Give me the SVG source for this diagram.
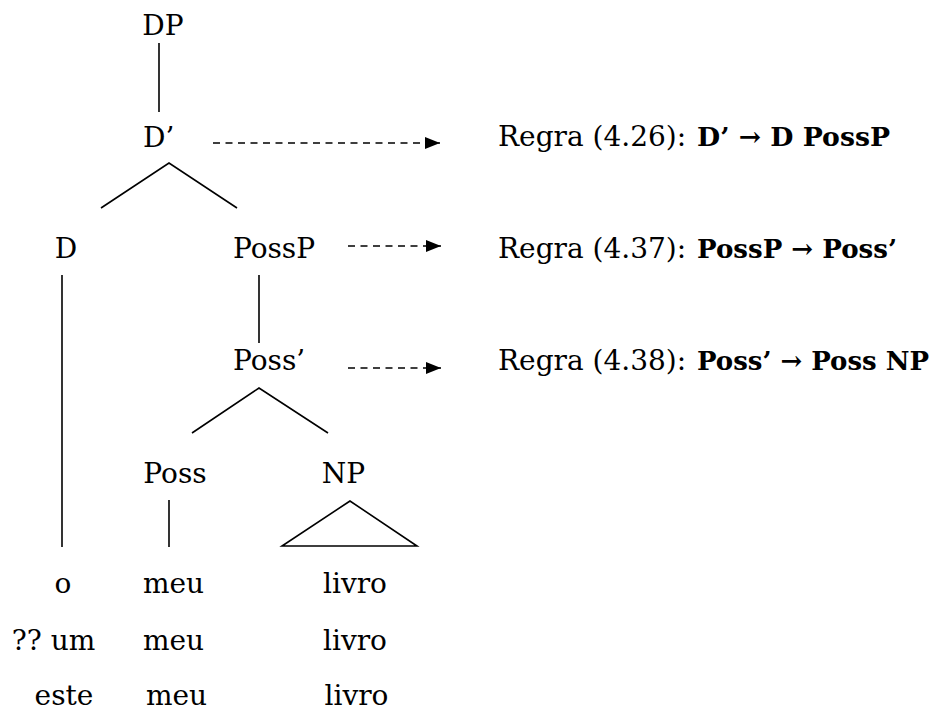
<svg xmlns="http://www.w3.org/2000/svg" width="938" height="711" viewBox="0 0 938 711">
<style>
text{font-family:"DejaVu Serif","Liberation Serif",serif;font-size:28px;fill:#000}
.m{text-anchor:middle}
.b{font-weight:bold;font-size:26.5px}
line,polyline,polygon.t{stroke:#000;stroke-width:1.6;fill:none}
.d{stroke-dasharray:7 5.5}
</style>
<defs>
<marker id="ah" markerWidth="15" markerHeight="12" refX="15" refY="6" orient="auto" markerUnits="userSpaceOnUse">
<path d="M0,0 L15,6 L0,12 Z" fill="#000"/>
</marker>
</defs>
<rect width="938" height="711" fill="#fff"/>
<g id="connectors">
<line x1="159" y1="43" x2="159" y2="112"/>
<polyline points="101,208 169,163 237,208"/>
<line x1="62" y1="275" x2="62" y2="547"/>
<line x1="259" y1="275" x2="259" y2="343"/>
<polyline points="192,433 259,388 328,433"/>
<line x1="169" y1="500" x2="169" y2="547"/>
<polygon class="t" points="350,501 282,546 417,546"/>
<line class="d" x1="213" y1="143" x2="440" y2="143" marker-end="url(#ah)"/>
<line class="d" x1="348" y1="246" x2="441" y2="246" marker-end="url(#ah)"/>
<line class="d" x1="348" y1="368" x2="441" y2="368" marker-end="url(#ah)"/>
</g>
<g id="node-DP"><text class="m" x="163" y="35">DP</text></g>
<g id="node-Dbar"><text x="143" y="147">D’</text></g>
<g id="node-D"><text class="m" x="66" y="258">D</text></g>
<g id="node-PossP"><text class="m" x="274" y="258">PossP</text></g>
<g id="node-Possbar"><text x="233" y="370">Poss’</text></g>
<g id="node-Poss"><text class="m" x="175" y="483">Poss</text></g>
<g id="node-NP"><text class="m" x="343.5" y="483">NP</text></g>
<g id="words">
<text class="m" x="63" y="593">o</text>
<text class="m" x="173.5" y="593">meu</text>
<text class="m" x="355" y="593">livro</text>
<text class="m" x="53.5" y="650">?? um</text>
<text class="m" x="173.5" y="650">meu</text>
<text class="m" x="355" y="650">livro</text>
<text class="m" x="64" y="705">este</text>
<text class="m" x="176.5" y="705">meu</text>
<text class="m" x="356.5" y="705">livro</text>
</g>
<g id="rules">
<text x="498" y="146">Regra (4.26): <tspan class="b" x="697" textLength="193" lengthAdjust="spacingAndGlyphs">D’ → D PossP</tspan></text>
<text x="498" y="258">Regra (4.37): <tspan class="b" x="697" textLength="200" lengthAdjust="spacingAndGlyphs">PossP → Poss’</tspan></text>
<text x="498" y="370">Regra (4.38): <tspan class="b" x="697" textLength="232" lengthAdjust="spacingAndGlyphs">Poss’ → Poss NP</tspan></text>
</g>
</svg>
